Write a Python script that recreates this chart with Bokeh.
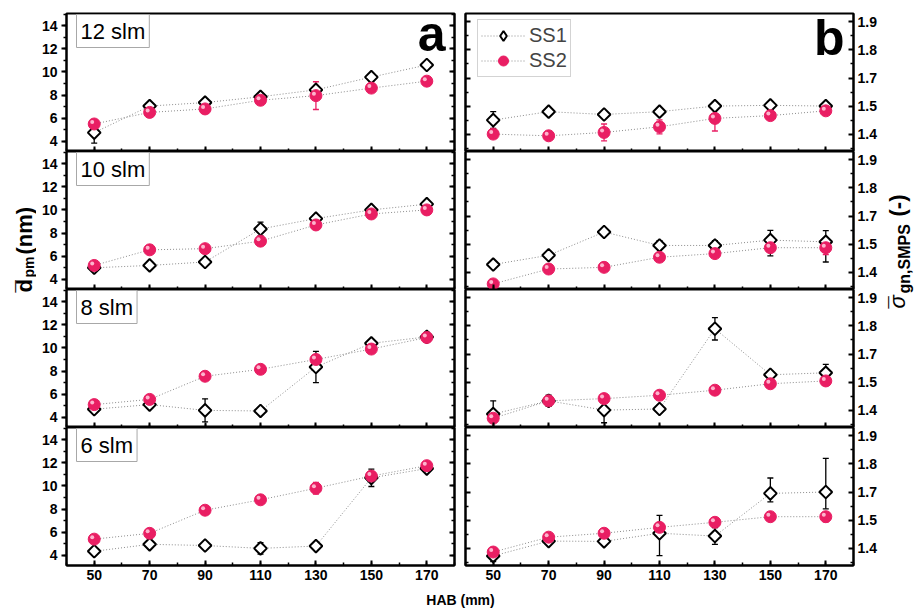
import numpy as np
from bokeh.plotting import figure
from bokeh.layouts import row, column
from bokeh.models import (ColumnDataSource, Range1d, LinearAxis, FixedTicker, Label,
                          Legend, LegendItem, Whisker, TeeHead, CustomJSTickFormatter)
from bokeh.core.properties import value
from bokeh.embed import file_html
from bokeh.resources import INLINE

# ---------------- data ----------------
hab = [50, 70, 90, 110, 130, 150, 170]
flows = ["12 slm", "10 slm", "8 slm", "6 slm"]
x_tick_labels = [50, 70, 90, 110, 130, 150, 170]
d_tick_labels = [4, 6, 8, 10, 12, 14]
sig_tick_labels = ["1.4", "1.5", "1.7", "1.8", "1.9"]
series_names = ["SS1", "SS2"]

d_ss1_12 = [4.75, 7.05, 7.35, 7.85, 8.45, 9.55, 10.6]
d_ss1_10 = [5.0, 5.2, 5.5, 8.35, 9.25, 10.0, 10.5]
d_ss1_8 = [4.7, 5.1, 4.6, 4.55, 8.35, 10.4, 10.95]
d_ss1_6 = [4.35, 4.95, 4.85, 4.6, 4.8, 10.7, 11.5]
d_ss1_err_12 = [0.9, 0.15, 0.15, 0.2, 0.3, 0.2, 0.1]
d_ss1_err_10 = [0.15, 0.1, 0.15, 0.6, 0.2, 0.15, 0.15]
d_ss1_err_8 = [0.2, 0.15, 1.0, 0.15, 1.35, 0.2, 0.4]
d_ss1_err_6 = [0.15, 0.15, 0.15, 0.5, 0.15, 0.75, 0.2]

d_ss2_12 = [5.5, 6.5, 6.8, 7.55, 7.95, 8.6, 9.2]
d_ss2_10 = [5.2, 6.55, 6.65, 7.3, 8.7, 9.65, 10.0]
d_ss2_8 = [5.1, 5.55, 7.55, 8.15, 9.0, 9.9, 10.9]
d_ss2_6 = [5.4, 5.9, 7.9, 8.8, 9.8, 10.85, 11.75]
d_ss2_err_12 = [0.1, 0.1, 0.1, 0.15, 1.2, 0.1, 0.1]
d_ss2_err_10 = [0.1, 0.1, 0.1, 0.1, 0.15, 0.1, 0.1]
d_ss2_err_8 = [0.1, 0.15, 0.1, 0.1, 0.4, 0.15, 0.1]
d_ss2_err_6 = [0.1, 0.1, 0.1, 0.1, 0.5, 0.2, 0.1]

s_ss1_12 = [1.45, 1.48, 1.47, 1.48, 1.50, 1.505, 1.50]
s_ss1_10 = [1.427, 1.46, 1.586, 1.495, 1.495, 1.528, 1.516]
s_ss1_8 = [1.386, 1.433, 1.40, 1.404, 1.79, 1.552, 1.566]
s_ss1_6 = [1.372, 1.425, 1.424, 1.453, 1.443, 1.69, 1.70]
s_ss1_err_12 = [0.03, 0.01, 0.01, 0.01, 0.03, 0.01, 0.01]
s_ss1_err_10 = [0.01, 0.01, 0.01, 0.03, 0.03, 0.07, 0.08]
s_ss1_err_8 = [0.047, 0.02, 0.045, 0.01, 0.04, 0.01, 0.06]
s_ss1_err_6 = [0.02, 0.01, 0.01, 0.08, 0.03, 0.06, 0.12]

s_ss2_12 = [1.40, 1.394, 1.406, 1.426, 1.456, 1.466, 1.483]
s_ss2_10 = [1.358, 1.411, 1.417, 1.453, 1.466, 1.487, 1.487]
s_ss2_8 = [1.371, 1.433, 1.441, 1.453, 1.471, 1.494, 1.508]
s_ss2_6 = [1.386, 1.439, 1.453, 1.474, 1.492, 1.524, 1.524]
s_ss2_err_12 = [0.01, 0.01, 0.03, 0.025, 0.045, 0.01, 0.01]
s_ss2_err_10 = [0.01, 0.01, 0.01, 0.01, 0.01, 0.01, 0.025]
s_ss2_err_8 = [0.01, 0.01, 0.01, 0.01, 0.01, 0.01, 0.01]
s_ss2_err_6 = [0.01, 0.01, 0.01, 0.01, 0.01, 0.01, 0.03]

D1 = [d_ss1_12, d_ss1_10, d_ss1_8, d_ss1_6]
D1E = [d_ss1_err_12, d_ss1_err_10, d_ss1_err_8, d_ss1_err_6]
D2 = [d_ss2_12, d_ss2_10, d_ss2_8, d_ss2_6]
D2E = [d_ss2_err_12, d_ss2_err_10, d_ss2_err_8, d_ss2_err_6]
S1 = [s_ss1_12, s_ss1_10, s_ss1_8, s_ss1_6]
S1E = [s_ss1_err_12, s_ss1_err_10, s_ss1_err_8, s_ss1_err_6]
S2 = [s_ss2_12, s_ss2_10, s_ss2_8, s_ss2_6]
S2E = [s_ss2_err_12, s_ss2_err_10, s_ss2_err_8, s_ss2_err_6]


# sigma axis has a compressed segment between 1.5 and 1.7 (one tick step)
def sig_pos(v):
    v = np.asarray(v, dtype=float)
    return np.round(np.where(v <= 1.5, v, np.where(v >= 1.7, v - 0.1, 1.5 + (v - 1.5) * 0.5)), 10)


# ---------------- style ----------------
FONT = "Liberation Sans"
PINK = "#E91E63"
LINE_GRAY = "#8c8c8c"
X_RANGE = (40, 180)
D_RANGE = (3.12, 15.05)
S_RANGE = (1.338, 1.830)
FW, FH = 388, 138
TOP_B, BOT_B = 13, 23
dxpx = (X_RANGE[1] - X_RANGE[0]) / FW
BLANK = CustomJSTickFormatter(code="return ''")


def style_axis(ax, labels, t_in, t_out):
    ax.axis_line_color = "black"
    ax.axis_line_width = 2
    ax.major_tick_line_color = "black"
    ax.major_tick_line_width = 2
    ax.minor_tick_line_color = "black"
    ax.minor_tick_line_width = 1.5
    ax.major_tick_in = t_in
    ax.major_tick_out = t_out
    ax.minor_tick_in = int(t_in * 0.6)
    ax.minor_tick_out = int(t_out * 0.6)
    ax.major_label_text_font = FONT
    ax.major_label_text_font_style = "bold"
    ax.major_label_text_font_size = "14px"
    ax.major_label_text_color = "black"
    if not labels:
        ax.formatter = BLANK
        ax.major_label_text_color = None
        ax.major_label_standoff = 0
    else:
        ax.major_label_standoff = 4


def x_ticker():
    return FixedTicker(ticks=x_tick_labels, minor_ticks=list(range(40, 181, 10)))


def make_panel(side, i):
    top = i == 0
    bottom = i == 3
    h = FH + (TOP_B if top else 0) + (BOT_B if bottom else 0)
    if side == "L":
        mbl, mbr = 30, 5
        yr = Range1d(*D_RANGE)
    else:
        mbl, mbr = 6, 30
        yr = Range1d(*S_RANGE)
    w = mbl + FW + mbr
    p = figure(width=w, height=h, x_range=Range1d(*X_RANGE), y_range=yr,
               output_backend="svg", toolbar_location=None,
               x_axis_location=None, y_axis_location=None,
               min_border_left=mbl, min_border_right=mbr,
               min_border_top=TOP_B if top else 0,
               min_border_bottom=BOT_B if bottom else 0,
               outline_line_color="black", outline_line_width=2,
               background_fill_color="white", border_fill_color="white")
    p.grid.grid_line_color = None

    xa = LinearAxis(ticker=x_ticker())
    style_axis(xa, bottom, 5, 0)
    if bottom:
        xa.major_label_standoff = 4
    p.add_layout(xa, "below")

    if side == "L":
        ya = LinearAxis(ticker=FixedTicker(ticks=d_tick_labels, minor_ticks=list(range(3, 16))))
        style_axis(ya, True, 0, 5)
        p.add_layout(ya, "left")
        ym = LinearAxis(ticker=FixedTicker(ticks=d_tick_labels, minor_ticks=list(range(3, 16))))
        style_axis(ym, False, 5, 0)
        p.add_layout(ym, "right")
        y1, e1, y2, e2 = D1[i], D1E[i], D2[i], D2E[i]
        f = lambda v: np.asarray(v, dtype=float)
        dypx = (D_RANGE[1] - D_RANGE[0]) / FH
        ytop = D_RANGE[1]
    else:
        pos = [float(v) for v in sig_pos([float(t) for t in sig_tick_labels])]
        minor = [1.35, 1.45, 1.55, 1.65, 1.75]
        ya = LinearAxis(ticker=FixedTicker(ticks=pos, minor_ticks=minor))
        style_axis(ya, True, 5, 0)
        ya.major_label_overrides = {pv: lab for pv, lab in zip(pos, sig_tick_labels)}
        p.add_layout(ya, "right")
        ym = LinearAxis(ticker=FixedTicker(ticks=pos, minor_ticks=minor))
        style_axis(ym, False, 5, 0)
        p.add_layout(ym, "left")
        y1, e1, y2, e2 = S1[i], S1E[i], S2[i], S2E[i]
        f = sig_pos
        dypx = (S_RANGE[1] - S_RANGE[0]) / FH
        ytop = S_RANGE[1]

    y1a, e1a = np.asarray(y1, float), np.asarray(e1, float)
    y2a, e2a = np.asarray(y2, float), np.asarray(e2, float)

    l1 = p.line(hab, f(y1a), line_color=LINE_GRAY, line_width=1, line_dash="1 2")
    l2 = p.line(hab, f(y2a), line_color=LINE_GRAY, line_width=1, line_dash="1 2")

    for ya_, ea_, col in ((y1a, e1a, "black"), (y2a, e2a, PINK)):
        src = ColumnDataSource(dict(x=hab, upper=f(ya_ + ea_), lower=f(ya_ - ea_)))
        wk = Whisker(source=src, base="x", upper="upper", lower="lower",
                     line_color=col, line_width=1.3,
                     upper_head=TeeHead(size=6, line_color=col, line_width=1.3),
                     lower_head=TeeHead(size=6, line_color=col, line_width=1.3),
                     level="underlay")
        p.add_layout(wk)

    p.scatter(hab, f(y1a), marker="square", angle=np.pi / 4, size=9,
              fill_color="white", line_color="black", line_width=2)
    s2 = p.scatter(hab, f(y2a), marker="circle", size=12,
                   fill_color=PINK, line_color=PINK, line_width=1)
    p.scatter(np.asarray(hab, float) - 2 * dxpx, f(y2a) + 2 * dypx, marker="circle",
              size=4, fill_color="#ffc4d8", line_color=None, fill_alpha=0.9)

    if side == "L":
        p.add_layout(Label(x=X_RANGE[0] + 10 * dxpx, y=ytop - 1 * dypx, text=flows[i],
                           text_font=FONT, text_font_size="22px", text_color="black",
                           text_align="left", text_baseline="top", padding=4,
                           border_line_color="#a8a8a8", border_line_width=1,
                           background_fill_color="white"))
    if top:
        letter = "a" if side == "L" else "b"
        off = 20 if side == "L" else 24
        p.add_layout(Label(x=X_RANGE[1] - 9 * dxpx, y=ytop - off * dypx, text=letter,
                           text_font=FONT, text_font_style="bold", text_font_size="50px",
                           text_color="black", text_align="right", text_baseline="alphabetic"))
    if top and side == "R":
        # legend proxy for the diamond marker (legend glyphs are drawn unrotated);
        # its single point has no y value, so it draws nothing in the plot
        s1_proxy = p.scatter(x=hab[:1], y=[float("nan")], marker="diamond", size=15,
                             fill_color="white", line_color="black", line_width=2)
        leg = Legend(items=[LegendItem(label=series_names[0], renderers=[l1, s1_proxy]),
                            LegendItem(label=series_names[1], renderers=[l2, s2])],
                     location=(12, FH - 8 - 56), label_text_font=FONT, label_text_font_size="20px",
                     glyph_width=44, glyph_height=25, label_height=25, padding=3, spacing=0,
                     label_standoff=4, border_line_color="#a8a8a8", border_line_width=1,
                     background_fill_color="white", background_fill_alpha=1, margin=0)
        p.add_layout(leg)
    return p


def strip(w, h):
    s = figure(width=w, height=h, x_range=Range1d(0, w), y_range=Range1d(0, h),
               output_backend="svg", toolbar_location=None, min_border=0,
               x_axis_location=None, y_axis_location=None, outline_line_color=None,
               background_fill_color="white", border_fill_color="white")
    s.grid.grid_line_color = None
    return s


def vtext(s, x, y, txt, size, bold=True, italic=False):
    style = "bold" if bold else ("italic" if italic else "normal")
    s.text(x=[x], y=[y], text=[txt], angle=np.pi / 2, text_font=value(FONT),
           text_font_style=style, text_font_size=size, text_align="left",
           text_baseline="middle")


left_col = column([make_panel("L", i) for i in range(4)], spacing=0)
right_col = column([make_panel("R", i) for i in range(4)], spacing=0)
H_MAIN = TOP_B + 4 * FH + BOT_B

# left y-label  (d-bar with subscript pm, then (nm))
ls = strip(36, H_MAIN)
vtext(ls, 24, H_MAIN - 292, "d", "22px")
vtext(ls, 24, H_MAIN - 292, "\u00af", "22px")
vtext(ls, 28, H_MAIN - 277, "pm", "14px")
vtext(ls, 24, H_MAIN - 254, "(nm)", "22px")

# right y-label  (sigma-bar with subscript gn,SMPS, then (-))
rs = strip(36, H_MAIN)
vtext(rs, 14, H_MAIN - 308, "\u03c3", "22px", bold=False, italic=True)
vtext(rs, 14, H_MAIN - 308, "\u00af", "22px", bold=False)
vtext(rs, 21, H_MAIN - 293, "gn,SMPS", "16px")
vtext(rs, 14, H_MAIN - 216, "(-)", "22px")

# bottom x-label
bs = strip(919, 608 - H_MAIN)
bs.text(x=[460], y=[9], text=["HAB (mm)"], text_font=value(FONT), text_font_style="bold",
        text_font_size="14px", text_align="center", text_baseline="middle")

layout = column(row(ls, left_col, right_col, rs, spacing=0), bs, spacing=0)

open("out.html", "w").write(file_html(layout, INLINE))
